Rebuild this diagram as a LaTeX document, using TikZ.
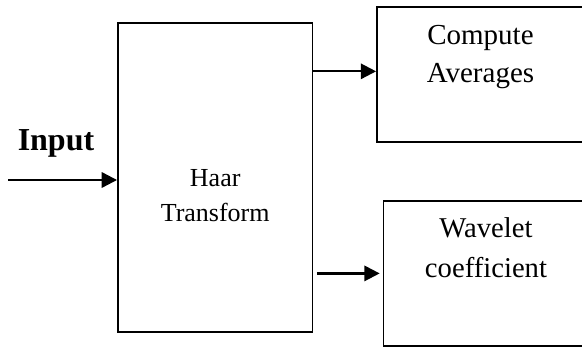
\documentclass[tikz,border=0pt]{standalone}
\usepackage{fontspec}
\setmainfont{Liberation Serif}
\usetikzlibrary{arrows.meta,positioning}
\tikzset{
  blk/.style  = {draw, line width=1.35pt, inner sep=0pt},
  flow/.style = {-{Triangle[length=11.5pt,width=11.5pt]}, line width=1.7pt},
  txt/.style  = {align=center, inner sep=0pt, anchor=base}
}

\begin{document}
\begin{tikzpicture}[x=0.75pt,y=0.75pt]
  \clip (0,0) rectangle (582,347);
  % --- blocks
  \node[blk, minimum width=145.9pt, minimum height=231.75pt] (haar) at (215.2,169.2) {};
  \node[blk, minimum width=155.25pt, minimum height=101.25pt] (avg) at (480.5,272.2) {};
  \node[blk, minimum width=153.75pt, minimum height=108.5pt] (wave) at (486,73.6) {};
  % --- block texts (anchored at the baseline of the last line)
  \node[txt, font=\fontsize{19.5}{26}\selectfont] (haartxt)
       at ([yshift=-32.4pt]haar.center) {Haar\\Transform};
  \node[txt, font=\fontsize{21.75}{28.5}\selectfont] (avgtxt)
       at ([yshift=-56.8pt]avg.north) {Compute\\Averages};
  \node[txt, font=\fontsize{21.5}{30}\selectfont] (wavetxt)
       at ([yshift=-57.75pt]wave.north) {Wavelet\\coefficient};
  \node[txt, font=\bfseries\fontsize{24}{28}\selectfont] (inlbl) at (56,197) {Input};
  % --- connectors
  \coordinate (src) at (8,167);
  \coordinate (avgin) at ([yshift=2.6pt]avg.west);
  \draw[flow] (src) -- (haar.west |- src);
  \draw[flow] (haar.east |- avgin) -- (avgin);
  \draw[flow, shorten <=2.6pt, shorten >=2.2pt] (haar.east |- wave.west) -- (wave.west);
\end{tikzpicture}
\end{document}
